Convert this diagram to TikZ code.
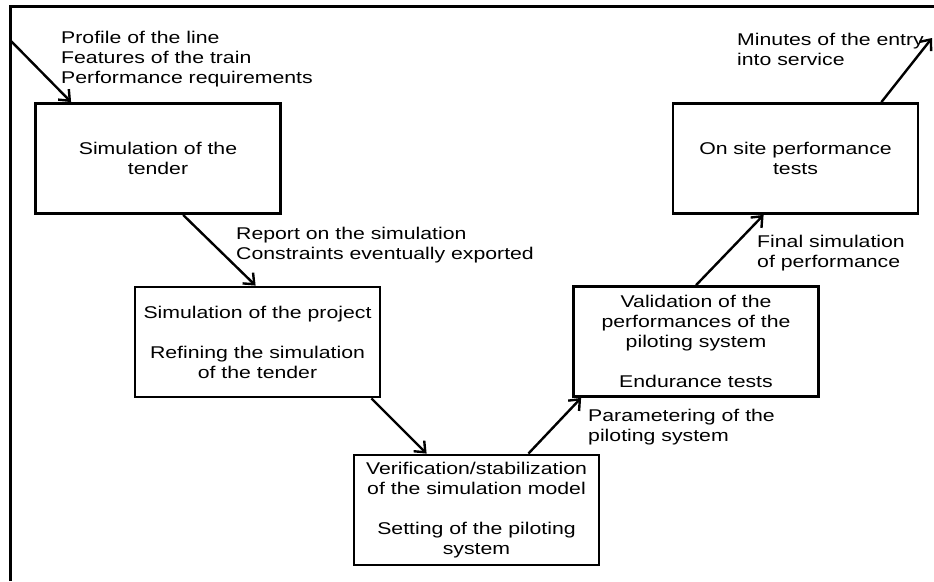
\documentclass[tikz,border=0pt]{standalone}
\usepackage{fontspec}
\setmainfont{Liberation Sans}[FakeStretch=1.25]
\usetikzlibrary{positioning,calc,arrows.meta}

\begin{document}
\begin{tikzpicture}[x=1pt,y=-1pt,
	stage/.style={rectangle,draw,line width=2.8pt,minimum width=245pt,minimum height=110pt,align=center,inner sep=0pt,font=\fontsize{17}{20}\selectfont},
	note/.style={anchor=west,align=left,inner sep=0pt,font=\fontsize{17}{20}\selectfont},
	flow/.style={black,line width=2.4pt,-{Straight Barb[length=9pt,width=15pt]}}]

	\useasboundingbox[fill=white] (0,0) rectangle (934,581);
	\draw[line width=3pt] (10,581) -- (10,6) -- (934,6);

	\node[stage] (T) at (158,158.5) {Simulation of the\\tender};
	\node[stage] (P) at (257.5,342) {Simulation of the project\\[20pt]Refining the simulation\\of the tender};
	\node[stage] (M) at (476.5,510) {Verification/stabilization\\of the simulation model\\[20pt]Setting of the piloting\\system};
	\node[stage] (V) at (696,341.5) {Validation of the\\performances of the\\piloting system\\[20pt]Endurance tests};
	\node[stage] (S) at (795.5,158.5) {On site performance\\tests};

	\node[note] (in) at (61,59) {Profile of the line\\Features of the train\\Performance requirements};
	\node[note] (rep) at (236,245) {Report on the simulation\\Constraints eventually exported};
	\node[note] (par) at (588,427) {Parametering of the\\piloting system};
	\node[note] (fin) at (757,253) {Final simulation\\of performance};
	\node[note] (out) at (737,49) {Minutes of the entry\\into service};

	\coordinate (start) at (10,40);
	\coordinate (stop) at (932,38);

	\draw[flow] (start) -- ([xshift=37pt]T.north west);
	\draw[flow] ([xshift=149pt]T.south west) -- ([xshift=122pt]P.north west);
	\draw[flow] ([xshift=-10pt]P.south east) -- ([xshift=74pt]M.north west);
	\draw[flow] ([xshift=-72pt]M.north east) -- ([xshift=9pt]V.south west);
	\draw[flow] ([xshift=124pt]V.north west) -- ([xshift=92pt]S.south west);
	\draw[flow] ([xshift=-38pt]S.north east) -- (stop);
\end{tikzpicture}
\end{document}
